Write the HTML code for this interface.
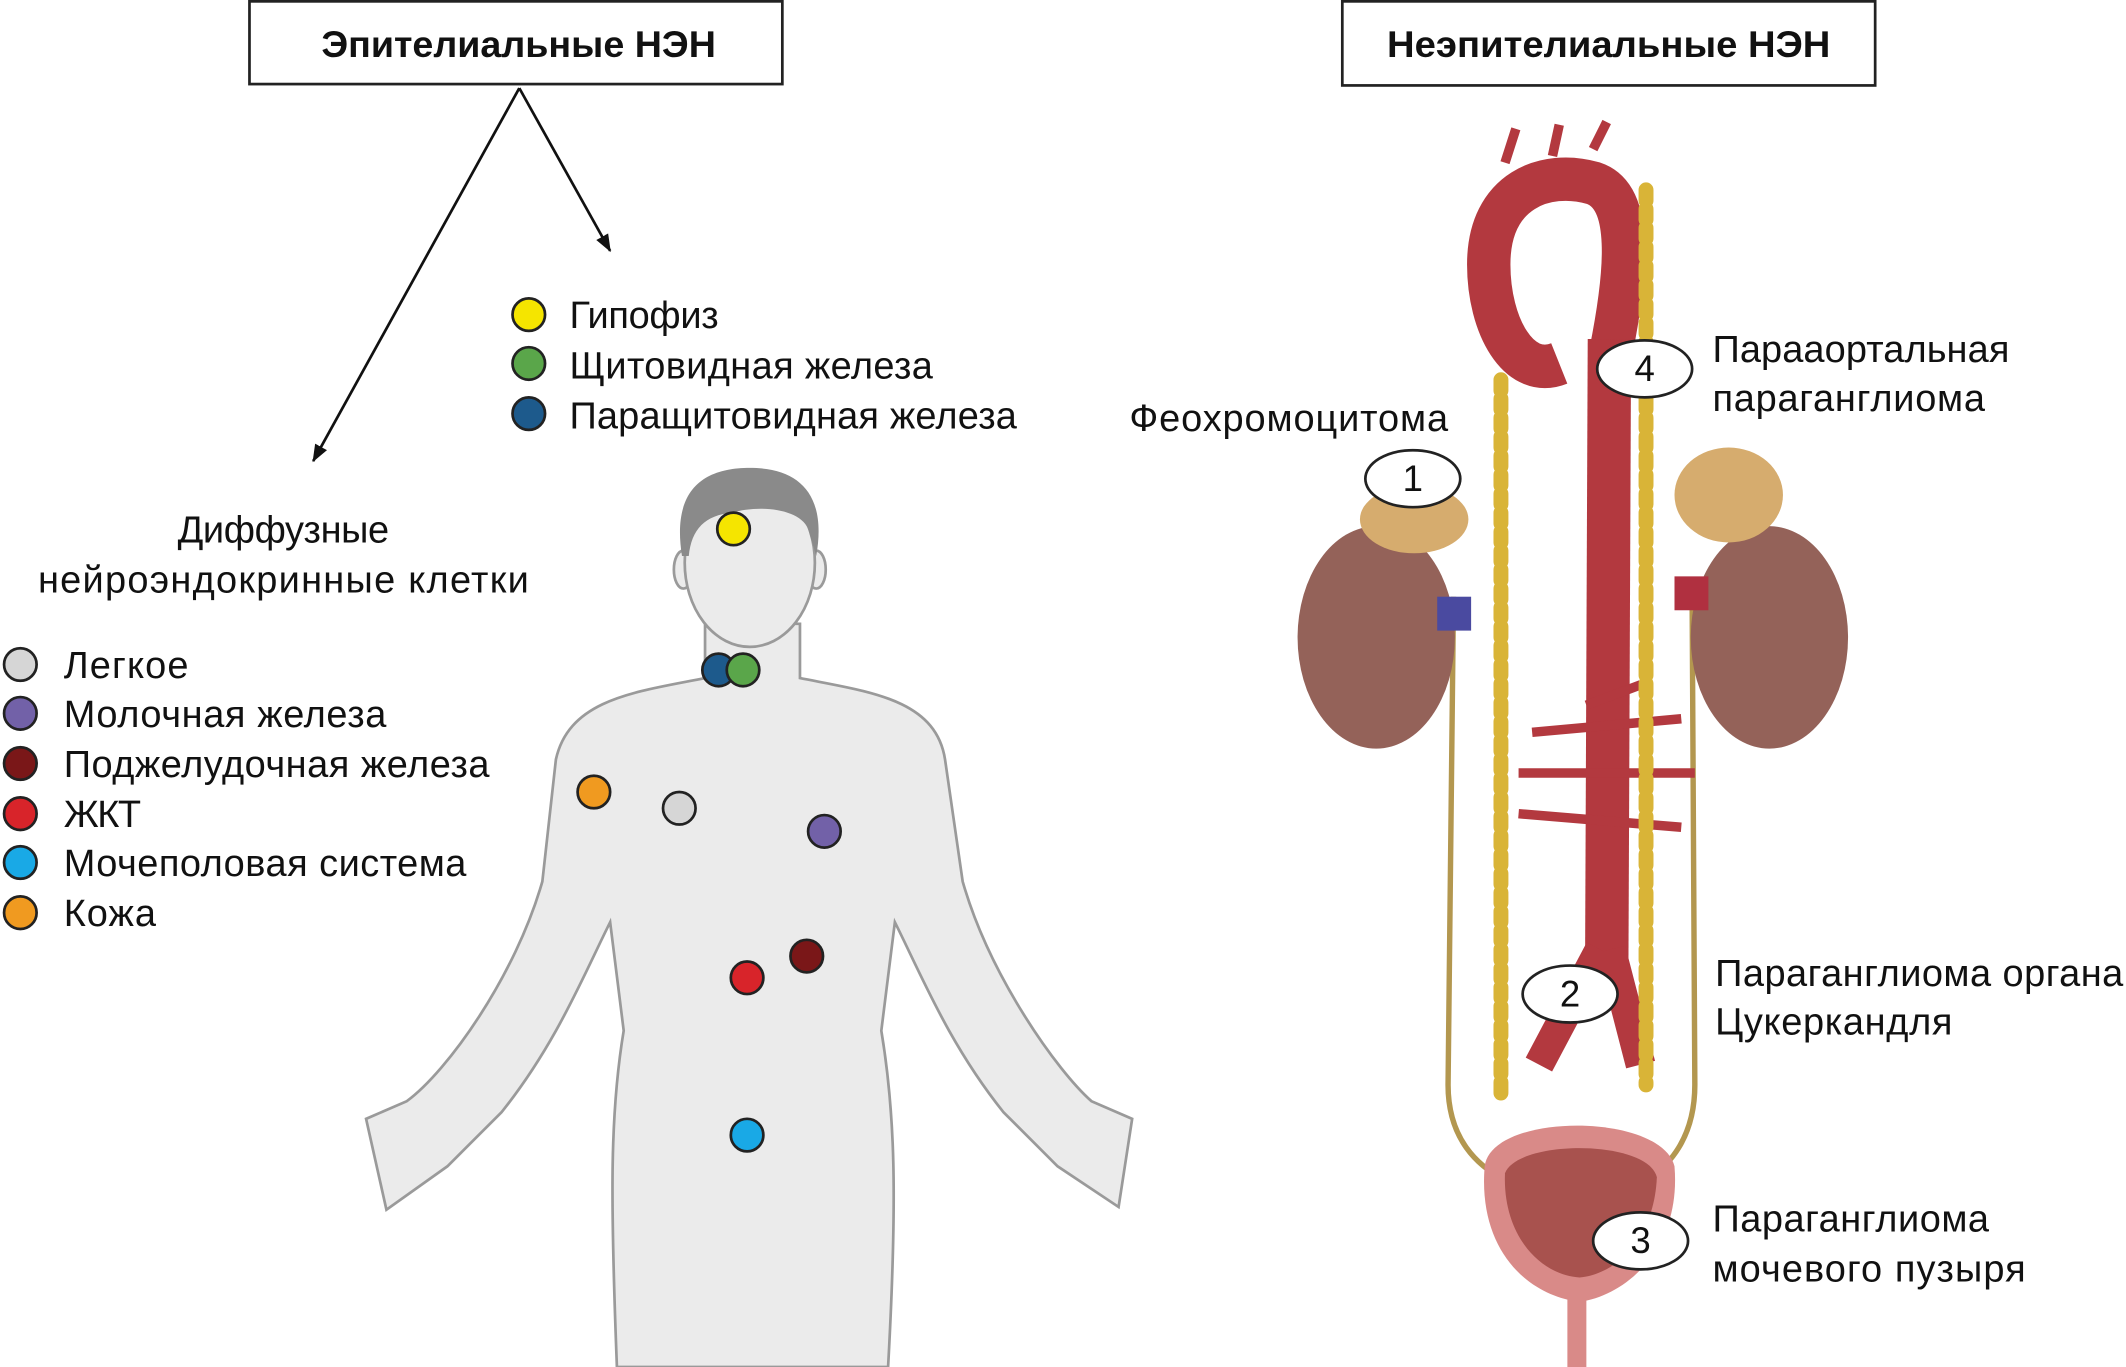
<!DOCTYPE html>
<html><head><meta charset="utf-8"><style>
html,body{margin:0;padding:0;background:#fff;}
svg{display:block}
text{font-family:"Liberation Sans",sans-serif;fill:#111}
</style></head><body>
<svg width="2126" height="1367" viewBox="0 0 1568 1008" preserveAspectRatio="none" xmlns="http://www.w3.org/2000/svg">
<defs><marker id="ar" markerWidth="14" markerHeight="14" refX="12" refY="7" orient="auto" markerUnits="userSpaceOnUse"><path d="M0,2 L13,7 L0,12 Z" fill="#111"/></marker></defs>
<rect x="184" y="1" width="393" height="61" fill="#fff" stroke="#222" stroke-width="2"/>
<text x="237" y="42" font-size="27" font-weight="bold" textLength="291" lengthAdjust="spacingAndGlyphs">Эпителиальные НЭН</text>
<rect x="990" y="1" width="393" height="62" fill="#fff" stroke="#222" stroke-width="2"/>
<text x="1023" y="42" font-size="27" font-weight="bold" textLength="327" lengthAdjust="spacingAndGlyphs">Неэпителиальные НЭН</text>
<line x1="383" y1="65" x2="231" y2="340" stroke="#111" stroke-width="2" marker-end="url(#ar)"/>
<line x1="383" y1="65" x2="450" y2="185" stroke="#111" stroke-width="2" marker-end="url(#ar)"/>
<g stroke="#222" stroke-width="2">
<circle cx="390" cy="232" r="12" fill="#f5e500"/>
<circle cx="390" cy="268" r="12" fill="#5aa64a"/>
<circle cx="390" cy="305" r="12" fill="#1d5a8c"/>
<circle cx="15" cy="490" r="12" fill="#d6d6d6"/>
<circle cx="15" cy="526" r="12" fill="#7261a8"/>
<circle cx="15" cy="563" r="12" fill="#7a1718"/>
<circle cx="15" cy="600" r="12" fill="#d8242a"/>
<circle cx="15" cy="636" r="12" fill="#19a9e6"/>
<circle cx="15" cy="673" r="12" fill="#f09a20"/>
</g>
<g font-size="28" lengthAdjust="spacingAndGlyphs">
<text x="420" y="242" textLength="110">Гипофиз</text>
<text x="420" y="279" textLength="268">Щитовидная железа</text>
<text x="420" y="316" textLength="330">Паращитовидная железа</text>
<text x="131" y="400" textLength="156">Диффузные</text>
<text x="28" y="437" textLength="362">нейроэндокринные клетки</text>
<text x="47" y="500" textLength="92">Легкое</text>
<text x="47" y="536" textLength="238">Молочная железа</text>
<text x="47" y="573" textLength="314">Поджелудочная железа</text>
<text x="47" y="610" textLength="57">ЖКТ</text>
<text x="47" y="646" textLength="297">Мочеполовая система</text>
<text x="47" y="683" textLength="68">Кожа</text>
</g>
<!-- body -->
<path d="M520,460 L520,500 C470,510 420,515 410,560 L400,650 C380,720 330,790 300,812 L270,825 L285,892 L330,860 L370,820 C410,770 430,720 450,680 L460,760 C450,820 450,880 455,1008 L655,1008 C662,880 660,820 650,760 L660,680 C680,720 700,770 740,820 L780,860 L825,890 L835,825 L805,812 C780,790 730,720 710,650 L697,560 C690,515 640,510 590,500 L590,460 Z" fill="#ebebeb" stroke="#9a9a9a" stroke-width="2"/>
<ellipse cx="504" cy="420" rx="7" ry="14" fill="#ebebeb" stroke="#9a9a9a" stroke-width="2"/>
<ellipse cx="602" cy="420" rx="7" ry="14" fill="#ebebeb" stroke="#9a9a9a" stroke-width="2"/>
<ellipse cx="553" cy="415" rx="48" ry="62" fill="#ebebeb" stroke="#9a9a9a" stroke-width="2"/>
<path d="M503,410 C495,360 520,345 553,345 C590,345 610,365 602,410 L596,390 C590,375 560,372 540,378 C520,380 510,390 508,410 Z" fill="#8a8a8a"/>
<g stroke="#222" stroke-width="2">
<circle cx="541" cy="390" r="12" fill="#f5e500"/>
<circle cx="530" cy="494" r="12" fill="#1d5a8c"/>
<circle cx="548" cy="494" r="12" fill="#5aa64a"/>
<circle cx="438" cy="584" r="12" fill="#f09a20"/>
<circle cx="501" cy="596" r="12" fill="#d6d6d6"/>
<circle cx="608" cy="613" r="12" fill="#7261a8"/>
<circle cx="595" cy="705" r="12" fill="#7a1718"/>
<circle cx="551" cy="721" r="12" fill="#d8242a"/>
<circle cx="551" cy="837" r="12" fill="#19a9e6"/>
</g>
<!-- right anatomy -->
<path d="M1072,440 L1068,800 C1068,840 1090,860 1110,870" fill="none" stroke="#b3974f" stroke-width="4"/>
<path d="M1248,440 L1250,800 C1250,840 1230,860 1215,870" fill="none" stroke="#b3974f" stroke-width="4"/>
<ellipse cx="1015" cy="470" rx="58" ry="82" fill="#946259"/>
<ellipse cx="1043" cy="383" rx="40" ry="25" fill="#d6ac6e"/>
<ellipse cx="1305" cy="470" rx="58" ry="82" fill="#946259"/>
<ellipse cx="1275" cy="365" rx="40" ry="35" fill="#d6ac6e"/>
<rect x="1060" y="440" width="25" height="25" fill="#4a4aa0"/>
<rect x="1235" y="425" width="25" height="25" fill="#b03040"/>
<path d="M1150,268 C1120,280 1098,240 1098,195 C1098,140 1140,125 1175,135 C1205,145 1200,200 1188,260" fill="none" stroke="#b3393f" stroke-width="32"/>
<path d="M1187,250 L1185,720" stroke="#b3393f" stroke-width="32"/>
<path d="M1180,700 L1135,785 M1188,700 L1210,785" stroke="#b3393f" stroke-width="22"/>
<path d="M1110,120 L1118,95 M1145,115 L1150,92 M1175,110 L1185,90 M1130,540 L1240,530 M1120,570 L1250,570 M1120,600 L1240,610 M1170,520 L1210,505" stroke="#b3393f" stroke-width="7"/>
<path d="M1107,280 L1107,810" stroke="#d9b437" stroke-width="11" stroke-dasharray="8 6" stroke-linecap="round"/>
<path d="M1214,140 L1214,800" stroke="#d9b437" stroke-width="11" stroke-dasharray="8 6" stroke-linecap="round"/>
<path d="M1095,860 C1100,820 1225,820 1235,860 C1240,920 1200,955 1165,960 C1125,955 1090,920 1095,860 Z" fill="#d98a88"/>
<path d="M1110,865 C1120,840 1215,840 1222,868 C1220,915 1190,940 1165,942 C1135,940 1108,910 1110,865 Z" fill="#a8524e"/>
<rect x="1156" y="955" width="14" height="53" fill="#d98a88"/>
<g fill="#fff" stroke="#222" stroke-width="2">
<ellipse cx="1042" cy="353" rx="35" ry="21"/>
<ellipse cx="1213" cy="272" rx="35" ry="21"/>
<ellipse cx="1158" cy="733" rx="35" ry="21"/>
<ellipse cx="1210" cy="915" rx="35" ry="21"/>
</g>
<g font-size="27" text-anchor="middle">
<text x="1042" y="362">1</text><text x="1213" y="281">4</text><text x="1158" y="742">2</text><text x="1210" y="924">3</text>
</g>
<g font-size="28" lengthAdjust="spacingAndGlyphs">
<text x="833" y="318" textLength="235">Феохромоцитома</text>
<text x="1263" y="267" textLength="219">Парааортальная</text>
<text x="1263" y="303" textLength="201">параганглиома</text>
<text x="1265" y="727" textLength="301">Параганглиома органа</text>
<text x="1265" y="763" textLength="175">Цукеркандля</text>
<text x="1263" y="908" textLength="204">Параганглиома</text>
<text x="1263" y="945" textLength="231">мочевого пузыря</text>
</g>
</svg>
</body></html>
